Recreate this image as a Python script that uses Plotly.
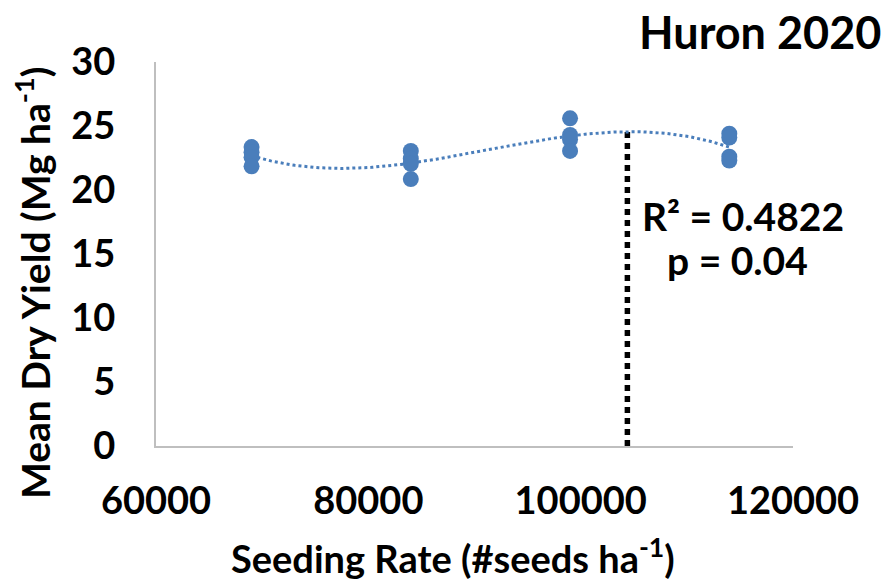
import numpy as np
import plotly.graph_objects as go

# Data
seeding_rate = [69000, 69000, 69000, 69000,
                84000, 84000, 84000, 84000,
                99000, 99000, 99000, 99000,
                114000, 114000, 114000, 114000]
dry_yield = [23.35, 22.95, 22.55, 21.85,
             23.05, 22.45, 22.05, 20.85,
             25.6, 24.3, 23.95, 23.05,
             24.4, 24.1, 22.6, 22.3]
optimum_rate = 104400
x_ticks = [60000, 80000, 100000, 120000]
y_ticks = [0, 5, 10, 15, 20, 25, 30]

# 3rd order polynomial trendline (Excel style)
coef = np.polyfit(seeding_rate, dry_yield, 3)
xs = np.linspace(min(seeding_rate), max(seeding_rate), 200)
ys = np.polyval(coef, xs)
opt_y = float(np.polyval(coef, optimum_rate))

BLUE = "#4a7ebb"
FONT = "Lato"

fig = go.Figure()
fig.add_trace(go.Scatter(x=[optimum_rate, optimum_rate], y=[0, opt_y], mode="lines",
                         line=dict(color="black", width=5.5, dash="6px,5px"), showlegend=False))
fig.add_trace(go.Scatter(x=xs, y=ys, mode="lines",
                         line=dict(color=BLUE, width=3, dash="dot"), showlegend=False))
fig.add_trace(go.Scatter(x=seeding_rate, y=dry_yield, mode="markers",
                         marker=dict(color=BLUE, size=16), showlegend=False))

W, H = 890, 584
L, R, T, B = 156, 97, 62, 138
pw, ph = W - L - R, H - T - B

def px(x):
    return (x - L) / pw

def py(y):
    return (H - B - y) / ph

fig.update_layout(
    width=W, height=H,
    margin=dict(l=L, r=R, t=T, b=B, autoexpand=False),
    paper_bgcolor="white", plot_bgcolor="white",
    font=dict(family=FONT, color="black"),
    xaxis=dict(range=[60000, 120000], tickvals=x_ticks, ticktext=[str(v) for v in x_ticks],
               showgrid=False, zeroline=False, showline=True, linecolor="#bfbfbf", linewidth=2,
               ticks="", tickfont=dict(size=38, family=FONT, color="black", weight="bold"),
               ticklabelstandoff=20),
    yaxis=dict(range=[0, 30], tickvals=y_ticks, showgrid=False, zeroline=False,
               showline=True, linecolor="#bfbfbf", linewidth=2, ticks="",
               tickfont=dict(size=38, family=FONT, color="black", weight="bold"),
               ticklabelstandoff=31),
    annotations=[
        dict(text="<b>Huron 2020</b>", xref="paper", yref="paper", x=px(760), y=py(32),
             showarrow=False, font=dict(size=45, family=FONT, color="black"),
             xanchor="center", yanchor="middle"),
        dict(text="<b>Seeding Rate (#seeds ha<sup>-1</sup>)</b>", xref="paper", yref="paper",
             x=px(453), y=py(556), showarrow=False,
             font=dict(size=38, family=FONT, color="black"), xanchor="center", yanchor="middle"),
        dict(text="<b>Mean Dry Yield (Mg ha<sup>-1</sup>)</b>", xref="paper", yref="paper",
             x=px(32), y=py(283), showarrow=False, textangle=-90,
             font=dict(size=39, family=FONT, color="black"), xanchor="center", yanchor="middle"),
        dict(text="<b>R² = 0.4822</b>", xref="paper", yref="paper", x=px(640), y=py(216),
             showarrow=False, font=dict(size=39, family=FONT, color="black"),
             xanchor="left", yanchor="middle"),
        dict(text="<b>p = 0.04</b>", xref="paper", yref="paper", x=px(665), y=py(260),
             showarrow=False, font=dict(size=39, family=FONT, color="black"),
             xanchor="left", yanchor="middle"),
    ],
)

fig.write_html("out.html")
